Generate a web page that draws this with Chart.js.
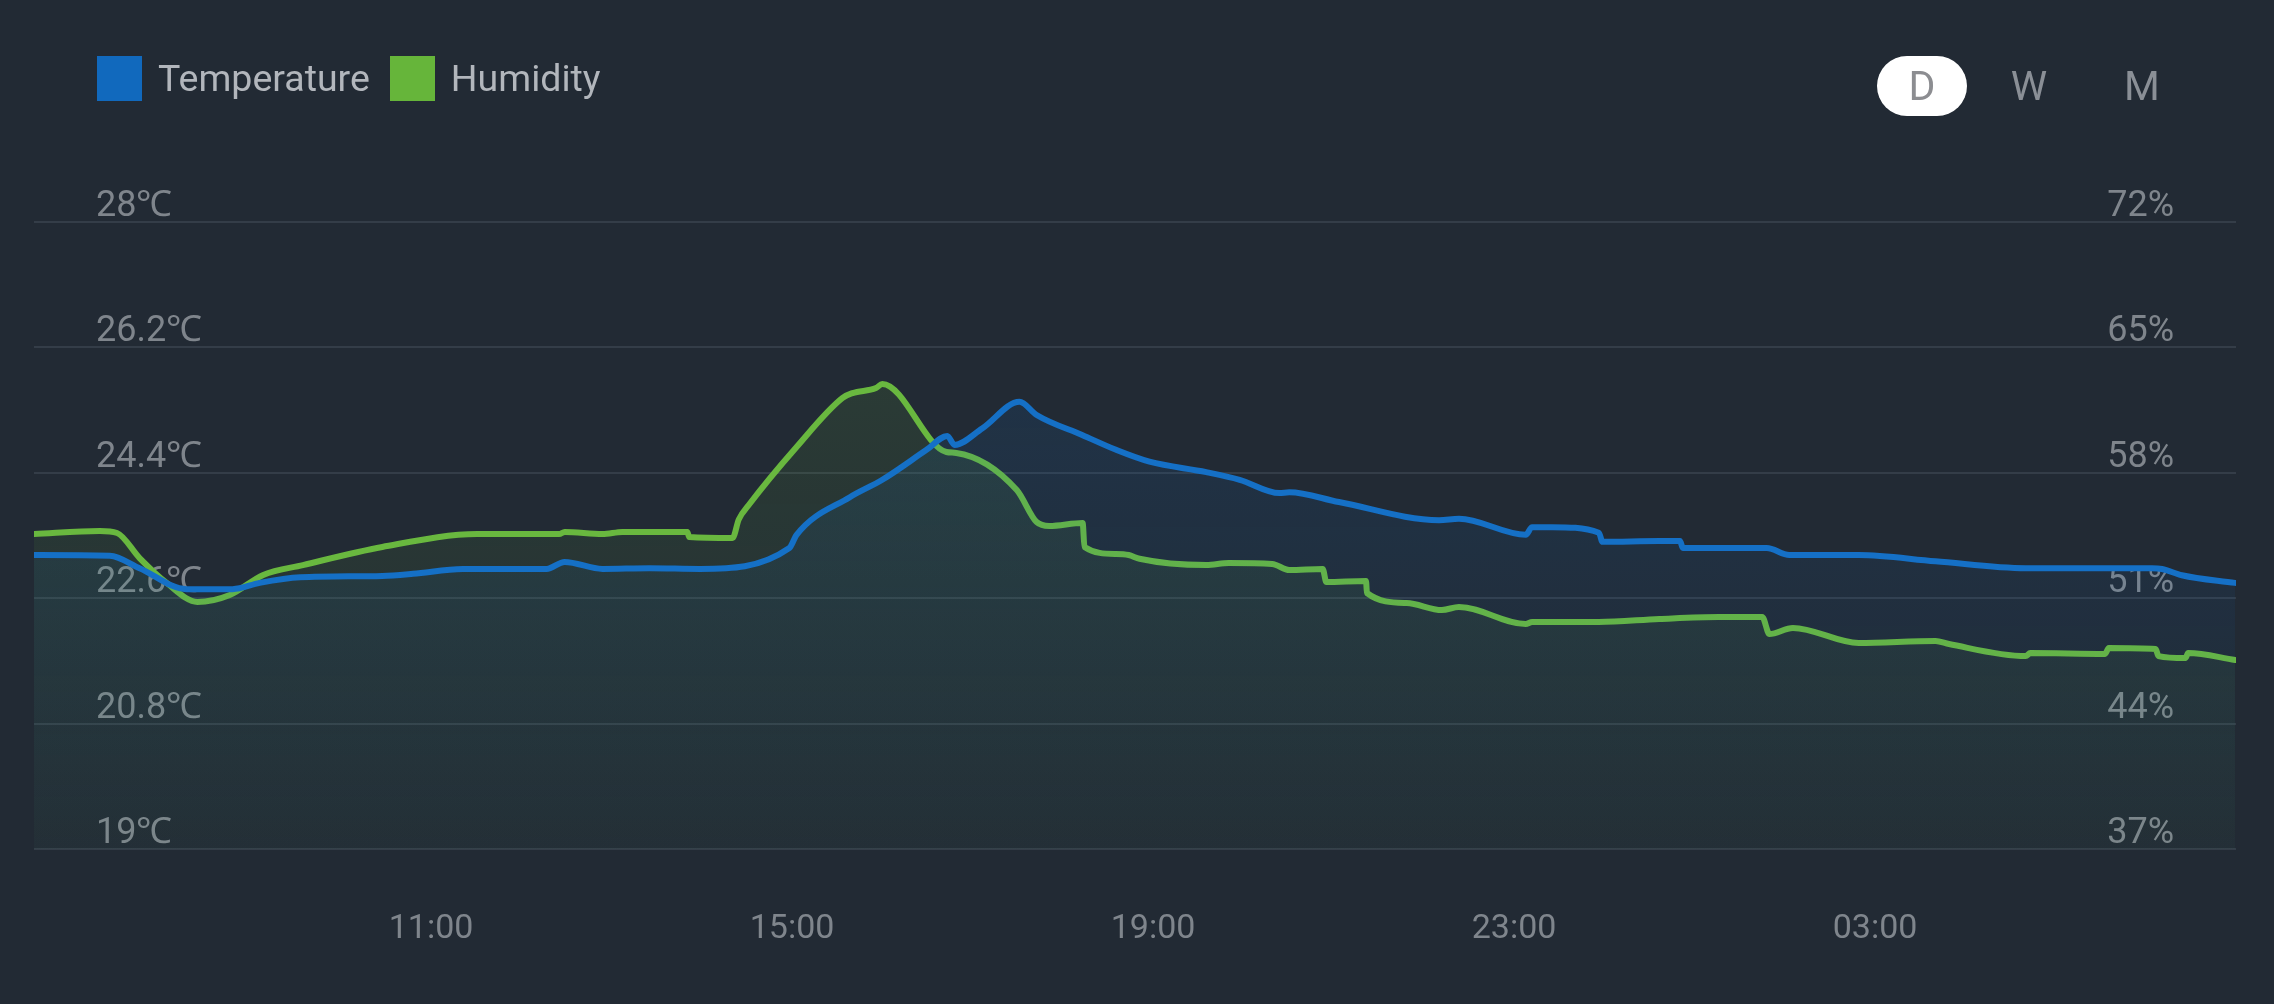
<!DOCTYPE html>
<html>
<head>
<meta charset="utf-8">
<script src="https://cdn.jsdelivr.net/npm/chart.js@4.4.1/dist/chart.umd.min.js"></script>
<style>
html, body { margin: 0; padding: 0; background: #222a34; }
body { width: 2274px; height: 1004px; position: relative; overflow: hidden; font-family: Roboto, "Noto Sans", sans-serif; }
#cht { position: absolute; left: 0; top: 0; }
.legend { position: absolute; left: 97px; top: 56px; height: 45px; display: flex; align-items: center; }
.legend__box { width: 45px; height: 45px; margin-right: 16px; }
.legend__text { color: #b2b6bc; font-size: 37.5px; line-height: 45px; margin-right: 20px; }
.range__btn { position: absolute; top: 56px; width: 90px; height: 60px; line-height: 60px; text-align: center; font-size: 41px; color: #8a8f96; border-radius: 30px; }
.range__btn--active { background: #ffffff; color: #8c8d91; }
</style>
</head>
<body>
<canvas id="cht" width="2274" height="1004"></canvas>

<div class="legend">
    <div class="legend__box" style="background:#1169bd"></div>
    <div class="legend__text">Temperature</div>
    <div class="legend__box" style="background:#66b53a"></div>
    <div class="legend__text">Humidity</div>
</div>

<div class="range__btn range__btn--active" style="left:1877px">D</div>
<div class="range__btn" style="left:1984px">W</div>
<div class="range__btn" style="left:2097px">M</div>

<script>
// hours since midnight of the first day (27 = 03:00 next day)
const timeTicks = [11, 15, 19, 23, 27];
const tempTicks = [19, 20.8, 22.6, 24.4, 26.2, 28];
const humTicks = [37, 44, 51, 58, 65, 72];

const tempHours = [6.60, 7.44, 7.77, 8.29, 8.80, 9.10, 9.55, 10.46, 10.80, 11.35, 12.28, 12.48, 12.90, 13.42, 13.98,
    14.97, 15.05, 15.64, 16.00, 16.49, 16.72, 16.80, 17.11, 17.52, 17.71, 18.22, 18.59, 18.96, 19.59, 19.96,
    20.40, 20.51, 21.06, 22.17, 22.39, 23.13, 23.20, 23.42, 23.94, 23.98, 24.61, 24.84, 24.87, 25.80, 26.05,
    26.82, 27.67, 28.67, 30.07, 30.18, 30.40, 30.99];
const tempValues = [23.22, 23.21, 23.03, 22.73, 22.73, 22.82, 22.90, 22.92, 22.95, 23.02, 23.02, 23.12, 23.02, 23.03, 23.02,
    23.32, 23.51, 24.05, 24.30, 24.73, 24.93, 24.80, 25.04, 25.42, 25.23, 24.94, 24.73, 24.56, 24.41, 24.30,
    24.11, 24.12, 23.98, 23.72, 23.74, 23.51, 23.62, 23.62, 23.54, 23.41, 23.42, 23.42, 23.32, 23.32, 23.22,
    23.22, 23.13, 23.03, 23.03, 23.02, 22.93, 22.82];

const humHours = [6.60, 7.33, 7.52, 7.77, 8.07, 8.41, 8.77, 9.14, 9.58, 10.46, 11.51, 12.42, 12.48, 12.90, 13.12,
    13.84, 13.86, 14.34, 14.41, 14.52, 15.05, 15.56, 15.67, 15.93, 16.00, 16.71, 16.82, 17.49, 17.71, 17.85,
    18.22, 18.24, 18.59, 18.73, 18.85, 19.59, 19.84, 20.32, 20.51, 20.88, 20.92, 21.36, 21.37, 21.81, 22.20,
    22.39, 23.13, 23.20, 23.94, 24.61, 25.27, 25.75, 25.83, 26.09, 26.82, 27.67, 27.82, 28.67, 28.72, 29.55,
    29.59, 30.11, 30.14, 30.44, 30.47, 30.99];
const humValues = [54.58, 54.75, 54.64, 53.24, 51.85, 50.79, 51.18, 52.30, 52.85, 53.86, 54.58, 54.58, 54.70, 54.58, 54.70,
    54.70, 54.42, 54.36, 55.40, 56.20, 59.44, 62.18, 62.45, 62.73, 62.96, 59.16, 59.11, 57.04, 55.25, 55.03,
    55.20, 53.86, 53.47, 53.41, 53.20, 52.85, 52.96, 52.91, 52.57, 52.63, 51.90, 51.96, 51.29, 50.73, 50.34,
    50.51, 49.56, 49.67, 49.67, 49.84, 49.95, 49.95, 49.00, 49.34, 48.50, 48.61, 48.44, 47.77, 47.94, 47.89,
    48.22, 48.16, 47.77, 47.66, 47.94, 47.55];

const tickColor = "#7f858c";

function fillGradient(rgb, topAlpha, bottomAlpha) {
    return function (context) {
        const chart = context.chart;
        const area = chart.chartArea;
        if (!area) {
            return null;
        }
        const g = chart.ctx.createLinearGradient(0, area.top, 0, area.bottom);
        g.addColorStop(0, `rgba(${rgb},${topAlpha})`);
        g.addColorStop(1, `rgba(${rgb},${bottomAlpha})`);
        return g;
    };
}

function hourLabel(h) {
    let hh = Math.round(h) % 24;
    return (hh < 10 ? "0" : "") + hh + ":00";
}

const cht = document.getElementById("cht");

const chart = new Chart(cht, {
    type: "line",
    data: {
        datasets: [{
            label: "Temperature",
            data: tempHours.map((h, i) => ({ x: h, y: tempValues[i] })),
            yAxisID: "yTemp",
            borderColor: "#1570c6",
            backgroundColor: fillGradient("21,112,198", 0.17, 0.02),
            fill: "origin"
        }, {
            label: "Humidity",
            data: humHours.map((h, i) => ({ x: h, y: humValues[i] })),
            yAxisID: "yHum",
            borderColor: "#69b83f",
            backgroundColor: fillGradient("105,184,63", 0.15, 0.03),
            fill: "origin"
        }]
    },
    options: {
        responsive: false,
        animation: false,
        layout: {
            padding: { left: 34, right: 38, top: 222, bottom: 0 }
        },
        plugins: {
            legend: { display: false },
            tooltip: { enabled: false }
        },
        elements: {
            point: { radius: 0 },
            line: { borderWidth: 6, cubicInterpolationMode: "monotone", borderJoinStyle: "round", borderCapStyle: "round" }
        },
        scales: {
            x: {
                type: "linear",
                min: 6.6,
                max: 31,
                afterBuildTicks: (s) => { s.ticks = timeTicks.map(v => ({ value: v })); },
                afterFit: (s) => { s.height = 155; s.paddingLeft = 0; s.paddingRight = 0; },
                ticks: {
                    color: tickColor,
                    padding: 52,
                    maxRotation: 0,
                    font: { family: "Roboto", size: 34 },
                    callback: (v) => hourLabel(v)
                },
                grid: { display: false },
                border: { display: false }
            },
            yTemp: {
                position: "left",
                min: 19,
                max: 28,
                afterBuildTicks: (s) => { s.ticks = tempTicks.map(v => ({ value: v })); },
                afterFit: (s) => { s.width = 0; s.paddingTop = 0; s.paddingBottom = 0; },
                ticks: {
                    mirror: true,
                    padding: 62,
                    labelOffset: -15,
                    color: tickColor,
                    font: { family: "Roboto", size: 36 },
                    callback: (v) => v + "℃"
                },
                grid: { color: "#343d48", lineWidth: 2, drawTicks: false },
                border: { display: false }
            },
            yHum: {
                position: "right",
                min: 37,
                max: 72,
                afterBuildTicks: (s) => { s.ticks = humTicks.map(v => ({ value: v })); },
                afterFit: (s) => { s.width = 0; s.paddingTop = 0; s.paddingBottom = 0; },
                ticks: {
                    mirror: true,
                    padding: -62,
                    labelOffset: -15,
                    color: tickColor,
                    font: { family: "Roboto", size: 36 },
                    callback: (v) => v + "%"
                },
                grid: { display: false, drawTicks: false },
                border: { display: false }
            }
        }
    }
});
</script>
</body>
</html>
